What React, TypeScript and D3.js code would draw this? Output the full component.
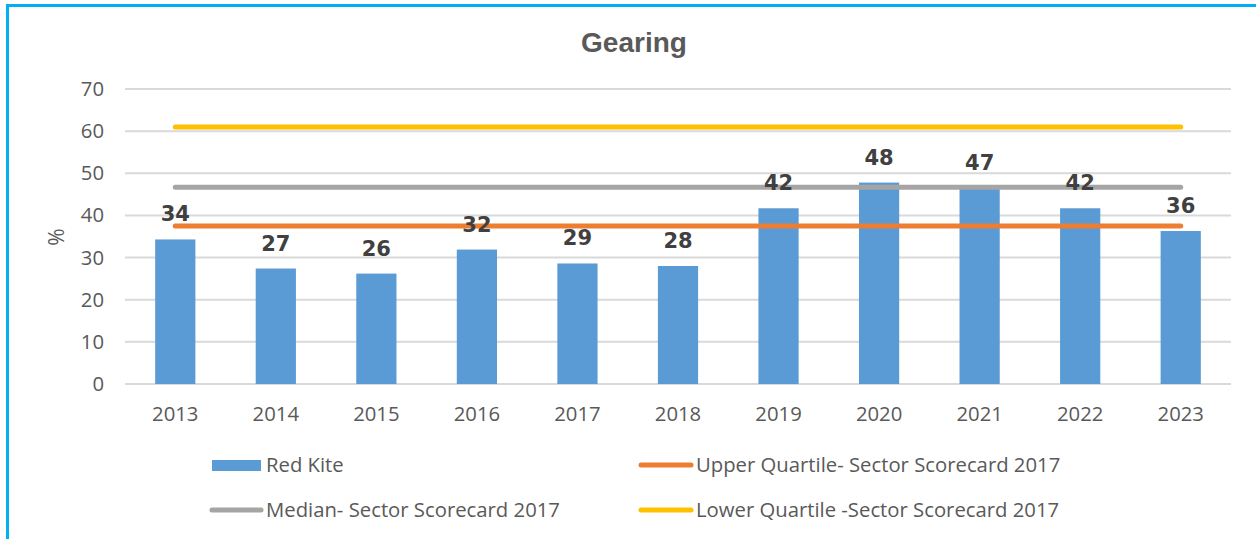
import React, { useEffect, useRef } from "react";
import * as d3 from "d3";

const years = ["2013", "2014", "2015", "2016", "2017", "2018", "2019", "2020", "2021", "2022", "2023"];
const redKite = [34.3, 27.4, 26.2, 31.9, 28.6, 28.0, 41.7, 47.8, 46.5, 41.7, 36.3];
const upperQuartile = 37.5;
const median = 46.7;
const lowerQuartile = 61.0;
const yTicks = [0, 10, 20, 30, 40, 50, 60, 70];

export default function App() {
  const ref = useRef<SVGSVGElement>(null);

  useEffect(() => {
    const svg = d3.select(ref.current);
    svg.selectAll("*").remove();

    const W = 1256, H = 539;
    const left = 125, right = 1231, top = 89, bottom = 384;
    const font = "'Open Sans', Lato, sans-serif";
    const fs = 20.3;

    // frame
    svg.append("rect")
      .attr("x", 7.5).attr("y", 5.5)
      .attr("width", W + 20).attr("height", H + 20)
      .attr("fill", "white")
      .attr("stroke", "#00b0f0").attr("stroke-width", 3);

    const x = d3.scaleBand().domain(years).range([left, right]).paddingInner(0.6).paddingOuter(0.3);
    const y = d3.scaleLinear().domain([0, 70]).range([bottom, top]);

    svg.append("text")
      .attr("x", 634).attr("y", 52)
      .attr("text-anchor", "middle")
      .attr("font-family", "'Liberation Sans', Arial, sans-serif")
      .attr("font-weight", "bold").attr("font-size", 28)
      .attr("fill", "#595959")
      .text("Gearing");

    // gridlines
    svg.append("g").selectAll("line").data(yTicks).enter().append("line")
      .attr("x1", left).attr("x2", right)
      .attr("y1", (d) => y(d)).attr("y2", (d) => y(d))
      .attr("stroke", "#d9d9d9").attr("stroke-width", 2);

    svg.append("g").selectAll("text").data(yTicks).enter().append("text")
      .attr("x", 104).attr("y", (d) => y(d) + 7)
      .attr("text-anchor", "end")
      .attr("font-family", font).attr("font-size", fs)
      .attr("fill", "#595959")
      .text((d) => d);

    svg.append("text")
      .attr("transform", "translate(64,237) rotate(-90)")
      .attr("text-anchor", "middle")
      .attr("font-family", font).attr("font-size", 21)
      .attr("fill", "#595959")
      .text("%");

    // bars
    svg.append("g").selectAll("rect").data(years).enter().append("rect")
      .attr("x", (d) => x(d)!)
      .attr("y", (d, i) => y(redKite[i]))
      .attr("width", x.bandwidth())
      .attr("height", (d, i) => bottom - y(redKite[i]))
      .attr("fill", "#5b9bd5");

    // x labels
    svg.append("g").selectAll("text").data(years).enter().append("text")
      .attr("x", (d) => x(d)! + x.bandwidth() / 2)
      .attr("y", 421)
      .attr("text-anchor", "middle")
      .attr("font-family", font).attr("font-size", fs)
      .attr("fill", "#595959")
      .text((d) => d);

    // reference lines
    const x0 = x(years[0])! + x.bandwidth() / 2;
    const x1 = x(years[years.length - 1])! + x.bandwidth() / 2;
    const refs = [
      { v: lowerQuartile, c: "#ffc000" },
      { v: median, c: "#a5a5a5" },
      { v: upperQuartile, c: "#ed7d31" },
    ];
    svg.append("g").selectAll("line").data(refs).enter().append("line")
      .attr("x1", x0).attr("x2", x1)
      .attr("y1", (d) => y(d.v)).attr("y2", (d) => y(d.v))
      .attr("stroke", (d) => d.c).attr("stroke-width", 5)
      .attr("stroke-linecap", "round");

    // data labels on top of lines
    svg.append("g").selectAll("text").data(years).enter().append("text")
      .attr("x", (d) => x(d)! + x.bandwidth() / 2)
      .attr("y", (d, i) => y(redKite[i]) - 18)
      .attr("text-anchor", "middle")
      .attr("font-family", "'DejaVu Sans', sans-serif")
      .attr("font-weight", "bold").attr("font-size", 21)
      .attr("fill", "#404040")
      .text((d, i) => Math.round(redKite[i]));

    // legend
    const leg = svg.append("g").attr("font-family", font).attr("font-size", fs).attr("fill", "#595959");
    leg.append("rect").attr("x", 212).attr("y", 460).attr("width", 49).attr("height", 11).attr("fill", "#5b9bd5");
    leg.append("text").attr("x", 266).attr("y", 472).text("Red Kite");
    leg.append("line").attr("x1", 212).attr("x2", 261).attr("y1", 510).attr("y2", 510)
      .attr("stroke", "#a5a5a5").attr("stroke-width", 5).attr("stroke-linecap", "round");
    leg.append("text").attr("x", 266).attr("y", 517).text("Median- Sector Scorecard 2017");
    leg.append("line").attr("x1", 641).attr("x2", 691).attr("y1", 465).attr("y2", 465)
      .attr("stroke", "#ed7d31").attr("stroke-width", 5).attr("stroke-linecap", "round");
    leg.append("text").attr("x", 696).attr("y", 472).text("Upper Quartile- Sector Scorecard 2017");
    leg.append("line").attr("x1", 641).attr("x2", 691).attr("y1", 510).attr("y2", 510)
      .attr("stroke", "#ffc000").attr("stroke-width", 5).attr("stroke-linecap", "round");
    leg.append("text").attr("x", 696).attr("y", 517).text("Lower Quartile -Sector Scorecard 2017");
  }, []);

  return (
    <svg ref={ref} width={1256} height={539}
      style={{ position: "absolute", left: 0, top: 0, display: "block" }} />
  );
}
